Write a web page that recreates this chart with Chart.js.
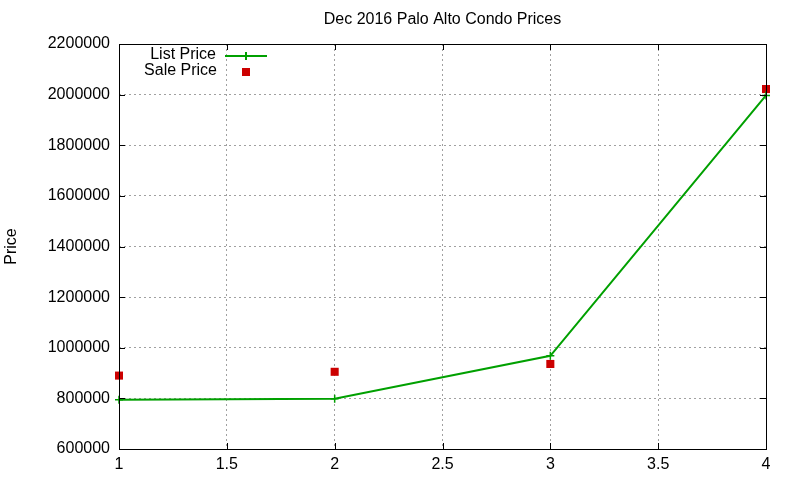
<!DOCTYPE html>
<html>
<head>
<meta charset="utf-8">
<script src="https://cdn.jsdelivr.net/npm/chart.js@4.4.0/dist/chart.umd.min.js"></script>
<style>
  html, body { margin: 0; padding: 0; background: #fff; }
  #wrap { width: 800px; height: 480px; }
</style>
</head>
<body>
<div id="wrap"><canvas id="chart" width="800" height="480"></canvas></div>
<script>
// values
const xValues = [1, 2, 3, 4];
const listPrice = [795000, 799000, 968000, 1997000];
const salePrice = [890000, 905000, 936000, 2022000];
const titleText = "Dec 2016 Palo Alto Condo Prices";
const yLabel = "Price";

const GREEN = "rgb(0,160,0)";
const RED = "rgb(204,0,0)";
const FONT = "'Liberation Sans', Arial, sans-serif";

const toPoints = (vals) => xValues.map((x, i) => ({ x: x, y: vals[i] }));

// gnuplot-ish frame: box, inward ticks, title, key
const gnuplotFrame = {
  id: "gnuplotFrame",
  afterDraw(chart) {
    const { ctx, chartArea: a, scales } = chart;
    ctx.save();
    ctx.strokeStyle = "#000";
    ctx.lineWidth = 1;
    ctx.strokeRect(Math.round(a.left) + 0.5, Math.round(a.top) + 0.5,
                   Math.round(a.right - a.left), Math.round(a.bottom - a.top));

    // inward tick marks, mirrored
    ctx.beginPath();
    scales.y.ticks.forEach(t => {
      const y = Math.round(scales.y.getPixelForValue(t.value)) + 0.5;
      ctx.moveTo(a.left, y); ctx.lineTo(a.left + 6, y);
      ctx.moveTo(a.right, y); ctx.lineTo(a.right - 6, y);
    });
    scales.x.ticks.forEach(t => {
      const x = Math.round(scales.x.getPixelForValue(t.value)) + 0.5;
      ctx.moveTo(x, a.bottom); ctx.lineTo(x, a.bottom - 6);
      ctx.moveTo(x, a.top); ctx.lineTo(x, a.top + 6);
    });
    ctx.stroke();

    // title
    ctx.fillStyle = "#000";
    ctx.font = "16px " + FONT;
    ctx.textAlign = "center";
    ctx.textBaseline = "middle";
    ctx.fillText(titleText, (a.left + a.right) / 2, 20);

    // key
    ctx.textAlign = "right";
    ctx.fillText(chart.data.datasets[0].label, 216, 55);
    ctx.fillText(chart.data.datasets[1].label, 217, 71);
    ctx.strokeStyle = GREEN;
    ctx.lineWidth = 2;
    ctx.beginPath();
    ctx.moveTo(225, 56); ctx.lineTo(267, 56);
    ctx.moveTo(246, 52); ctx.lineTo(246, 60);
    ctx.stroke();
    ctx.fillStyle = RED;
    ctx.fillRect(242, 68, 8, 8);
    ctx.restore();
  }
};

new Chart(document.getElementById("chart"), {
  type: "line",
  data: {
    datasets: [
      {
        label: "List Price",
        data: toPoints(listPrice),
        borderColor: GREEN,
        backgroundColor: GREEN,
        borderWidth: 2,
        pointStyle: "cross",
        pointRadius: 4,
        pointBorderWidth: 1.5,
        tension: 0,
        clip: false
      },
      {
        label: "Sale Price",
        data: toPoints(salePrice),
        showLine: false,
        borderColor: RED,
        backgroundColor: RED,
        pointStyle: "rect",
        pointRadius: 5.7,
        pointBorderWidth: 0,
        clip: false
      }
    ]
  },
  plugins: [gnuplotFrame],
  options: {
    responsive: false,
    animation: false,
    layout: { padding: { top: 44, right: 34, left: 0, bottom: 0 } },
    plugins: {
      legend: { display: false },
      title: { display: false },
      tooltip: { enabled: false }
    },
    scales: {
      x: {
        type: "linear",
        min: 1,
        max: 4,
        border: { display: false, dash: [2, 3] },
        grid: { color: "#a0a0a0", drawTicks: false },
        ticks: {
          stepSize: 0.5,
          padding: 6,
          color: "#000",
          font: { family: FONT, size: 16 },
          callback: (v) => String(v)
        },
        afterFit(scale) { scale.height = 31; }
      },
      y: {
        min: 600000,
        max: 2200000,
        border: { display: false, dash: [2, 3] },
        grid: { color: "#a0a0a0", drawTicks: false },
        ticks: {
          stepSize: 200000,
          padding: 9,
          color: "#000",
          font: { family: FONT, size: 16 },
          callback: (v) => String(v)
        },
        title: {
          display: true,
          text: yLabel,
          color: "#000",
          font: { family: FONT, size: 16 },
          padding: { top: 2, bottom: 0 }
        },
        afterFit(scale) { scale.width = 119; }
      }
    }
  }
});
</script>
</body>
</html>
